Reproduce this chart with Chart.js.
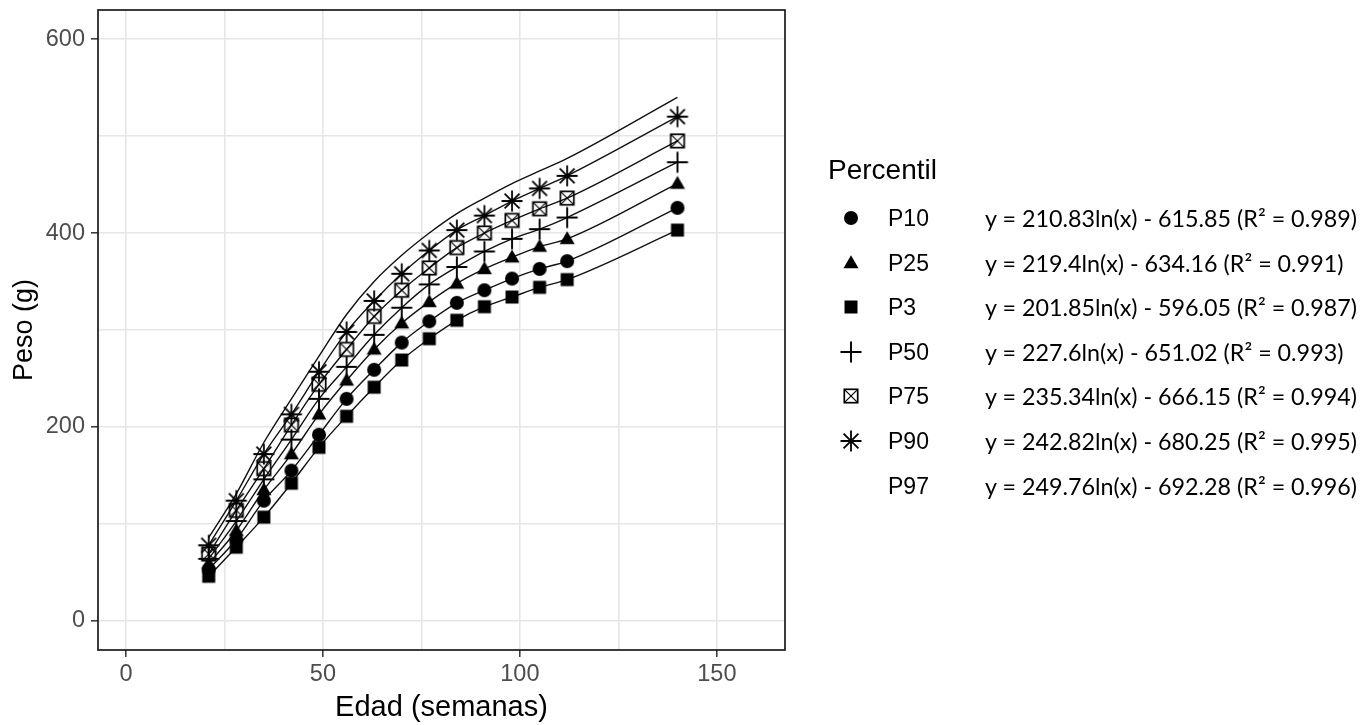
<!DOCTYPE html>
<html>
<head>
<meta charset="utf-8">
<script src="https://cdn.jsdelivr.net/npm/chart.js@4/dist/chart.umd.min.js"></script>
<style>
  html, body { margin: 0; padding: 0; background: #fff; }
  #wrap { position: relative; width: 1369px; height: 725px; overflow: hidden; }
  #c { position: absolute; left: 0; top: 0; }
  .lg { position: absolute; white-space: nowrap; color: #000; }
  .lg-title { font: 28px "Liberation Sans", Arial, sans-serif; line-height: 30px; }
  .lg-label { font: 23px "Liberation Sans", Arial, sans-serif; line-height: 30px; }
  .lg-eq { font: 23.3px Lato, "Open Sans", sans-serif; line-height: 30px; }
</style>
</head>
<body>
<div id="wrap">
  <canvas id="c" width="1369" height="725"></canvas>
  <div id="legend"></div>
</div>
<script>
// Edad (semanas) en la que se midió cada percentil
const weeks = [21, 28, 35, 42, 49, 56, 63, 70, 77, 84, 91, 98, 105, 112, 140];

// Peso (g) por percentil
const p10 = [53, 84, 124, 155, 192, 229, 259, 287, 309, 328, 341, 353, 363, 371, 426];
const p25 = [59, 93, 135, 172, 213, 248, 280, 307, 329, 348, 363, 375, 386, 394, 451];
const p3  = [46, 76, 107, 142, 179, 211, 241, 269, 291, 310, 324, 334, 344, 352, 403];
const p50 = [64, 103, 146, 187, 229, 262, 295, 323, 347, 365, 381, 394, 404, 416, 473];
const p75 = [69, 114, 157, 202, 244, 280, 314, 341, 364, 385, 400, 413, 425, 436, 495];
const p90 = [78, 124, 172, 213, 257, 298, 330, 358, 382, 403, 418, 433, 446, 459, 520];
const p97 = [86, 131, 184, 229, 273, 316, 350, 377, 400, 420, 436, 451, 464, 477, 540];

const seriesNames = ['P10', 'P25', 'P3', 'P50', 'P75', 'P90', 'P97'];
const seriesValues = [p10, p25, p3, p50, p75, p90, p97];
const seriesShapes = ['circle', 'triangle', 'square', 'plus', 'squareCross', 'asterisk', null];
const equations = [
  'y = 210.83ln(x) - 615.85 (R\u00B2 = 0.989)',
  'y = 219.4ln(x) - 634.16 (R\u00B2 = 0.991)',
  'y = 201.85ln(x) - 596.05 (R\u00B2 = 0.987)',
  'y = 227.6ln(x) - 651.02 (R\u00B2 = 0.993)',
  'y = 235.34ln(x) - 666.15 (R\u00B2 = 0.994)',
  'y = 242.82ln(x) - 680.25 (R\u00B2 = 0.995)',
  'y = 249.76ln(x) - 692.28 (R\u00B2 = 0.996)'
];

// Labelled ticks, and the grid lines (major + minor)
const xTicks = [0, 50, 100, 150];
const xGrid = [0, 25, 50, 75, 100, 125, 150];
const yTicks = [0, 200, 400, 600];
const yGrid = [0, 100, 200, 300, 400, 500, 600];

// Marker glyphs (filled circle, filled triangle, filled square, plus, boxed x, asterisk)
function markerCanvas(shape) {
  const size = 26;
  const c = document.createElement('canvas');
  c.width = size; c.height = size;
  const g = c.getContext('2d');
  const m = size / 2;
  g.fillStyle = '#000';
  g.strokeStyle = '#000';
  g.lineCap = 'butt';
  if (shape === 'circle') {
    g.beginPath(); g.arc(m, m, 7, 0, Math.PI * 2); g.fill();
  } else if (shape === 'triangle') {
    g.beginPath(); g.moveTo(m, m - 7.8); g.lineTo(m + 7.5, m + 5.3); g.lineTo(m - 7.5, m + 5.3); g.closePath(); g.fill();
  } else if (shape === 'square') {
    g.fillRect(m - 6.5, m - 6.5, 13, 13);
  } else if (shape === 'plus') {
    g.lineWidth = 1.9;
    g.beginPath(); g.moveTo(m - 10.5, m); g.lineTo(m + 10.5, m); g.moveTo(m, m - 10.5); g.lineTo(m, m + 10.5); g.stroke();
  } else if (shape === 'squareCross') {
    g.lineWidth = 1.7;
    g.strokeRect(m - 6.7, m - 6.7, 13.4, 13.4);
    g.lineWidth = 1.2;
    g.beginPath(); g.moveTo(m - 6.7, m - 6.7); g.lineTo(m + 6.7, m + 6.7); g.moveTo(m + 6.7, m - 6.7); g.lineTo(m - 6.7, m + 6.7); g.stroke();
  } else if (shape === 'asterisk') {
    g.lineWidth = 1.8;
    const r = 10.5, d = r * Math.SQRT1_2;
    g.beginPath();
    g.moveTo(m - r, m); g.lineTo(m + r, m);
    g.moveTo(m, m - r); g.lineTo(m, m + r);
    g.moveTo(m - d, m - d); g.lineTo(m + d, m + d);
    g.moveTo(m + d, m - d); g.lineTo(m - d, m + d);
    g.stroke();
  }
  return c;
}

const datasets = seriesNames.map((name, i) => {
  const shape = seriesShapes[i];
  return {
    label: name,
    data: weeks.map((w, k) => ({ x: w, y: seriesValues[i][k] })),
    showLine: true,
    borderColor: '#111',
    borderWidth: 1.4,
    cubicInterpolationMode: 'monotone',
    pointStyle: shape ? markerCanvas(shape) : false,
    pointRadius: shape ? 5 : 0,
    pointHoverRadius: shape ? 5 : 0,
    backgroundColor: '#000'
  };
});

// Black frame around the panel
const framePlugin = {
  id: 'panelFrame',
  afterDraw(chart) {
    const { ctx, chartArea: a } = chart;
    ctx.save();
    ctx.strokeStyle = '#1a1a1a';
    ctx.lineWidth = 1.7;
    ctx.strokeRect(a.left, a.top, a.right - a.left, a.bottom - a.top);
    ctx.restore();
  }
};

const tickFont = { family: '"Liberation Sans", Arial, sans-serif', size: 23.5 };
const gridColor = '#e6e6e6';

new Chart(document.getElementById('c'), {
  type: 'scatter',
  data: { datasets },
  plugins: [framePlugin],
  options: {
    responsive: false,
    devicePixelRatio: 1,
    animation: false,
    events: [],
    layout: { padding: { left: 0, top: 10, right: 584, bottom: 0 } },
    plugins: { legend: { display: false }, tooltip: { enabled: false } },
    scales: {
      x: {
        type: 'linear',
        min: -7.1,
        max: 167.3,
        afterBuildTicks(scale) { scale.ticks = xGrid.map(v => ({ value: v })); },
        afterFit(scale) { scale.height = 75; scale.paddingLeft = 0; scale.paddingRight = 0; },
        border: { display: false },
        grid: {
          color: gridColor,
          lineWidth: 1.6,
          tickLength: 7,
          tickWidth: 1.5,
          tickColor: c => (c.tick && xTicks.includes(c.tick.value)) ? '#333' : 'rgba(0,0,0,0)'
        },
        ticks: {
          autoSkip: false,
          maxRotation: 0,
          padding: 3,
          color: '#4d4d4d',
          font: tickFont,
          callback: v => xTicks.includes(v) ? String(v) : ''
        },
        title: {
          display: true, text: 'Edad (semanas)', color: '#000',
          font: { family: '"Liberation Sans", Arial, sans-serif', size: 29 },
          padding: { top: 0, bottom: 0 }
        }
      },
      y: {
        type: 'linear',
        min: -30,
        max: 630,
        afterBuildTicks(scale) { scale.ticks = yGrid.map(v => ({ value: v })); },
        afterFit(scale) { scale.width = 98; scale.paddingTop = 0; scale.paddingBottom = 0; },
        border: { display: false },
        grid: {
          color: gridColor,
          lineWidth: 1.6,
          tickLength: 7,
          tickWidth: 1.5,
          tickColor: c => (c.tick && yTicks.includes(c.tick.value)) ? '#333' : 'rgba(0,0,0,0)'
        },
        ticks: {
          autoSkip: false,
          padding: 6,
          color: '#4d4d4d',
          font: tickFont,
          callback: v => yTicks.includes(v) ? String(v) : ''
        },
        title: {
          display: true, text: 'Peso (g)', color: '#000',
          font: { family: '"Liberation Sans", Arial, sans-serif', size: 27 },
          padding: { top: 8, bottom: 2 }
        }
      }
    }
  }
});

// Legend: title, marker, percentile name and fitted equation
const legend = document.getElementById('legend');
const title = document.createElement('div');
title.className = 'lg lg-title';
title.textContent = 'Percentil';
title.style.left = '828px';
title.style.top = (170 - 15) + 'px';
legend.appendChild(title);

seriesNames.forEach((name, i) => {
  const cy = 218 + i * 44.6;
  if (seriesShapes[i]) {
    const mk = markerCanvas(seriesShapes[i]);
    mk.className = 'lg';
    mk.style.left = (851 - mk.width / 2) + 'px';
    mk.style.top = (cy - mk.height / 2) + 'px';
    legend.appendChild(mk);
  }
  const lab = document.createElement('div');
  lab.className = 'lg lg-label';
  lab.textContent = name;
  lab.style.left = '888px';
  lab.style.top = (cy - 15) + 'px';
  legend.appendChild(lab);

  const eq = document.createElement('div');
  eq.className = 'lg lg-eq';
  eq.textContent = equations[i];
  eq.style.left = '985px';
  eq.style.top = (cy - 15) + 'px';
  legend.appendChild(eq);
});
</script>
</body>
</html>
